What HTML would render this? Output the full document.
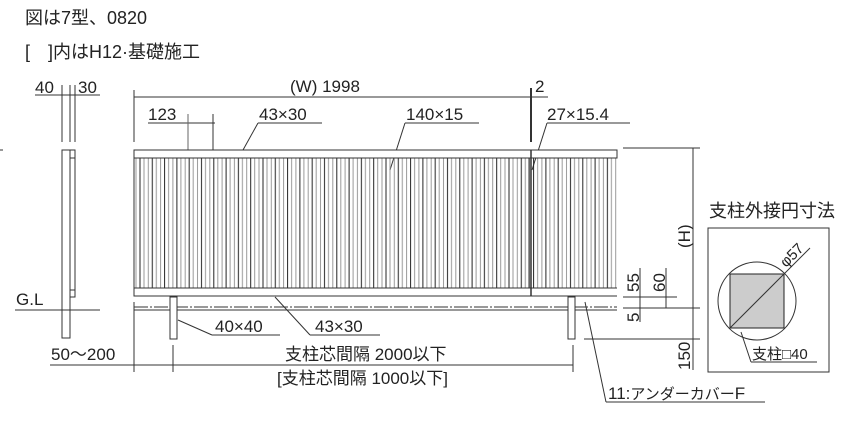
<!DOCTYPE html>
<html><head><meta charset="utf-8"><style>
body{margin:0;background:#fff}
svg{display:block}
text{font-family:"Liberation Sans","Noto Sans CJK JP",sans-serif;fill:#222}
</style></head><body>
<svg width="844" height="428" viewBox="0 0 844 428" xmlns="http://www.w3.org/2000/svg">
<defs>
<pattern id="sl" x="134" y="0" width="12.3" height="10" patternUnits="userSpaceOnUse">
<line x1="2" y1="0" x2="2" y2="10" stroke="#999" stroke-width="1"/>
<line x1="6" y1="0" x2="6" y2="10" stroke="#222" stroke-width="1"/>
<line x1="10" y1="0" x2="10" y2="10" stroke="#999" stroke-width="1"/>
</pattern>
</defs>
<g font-size="18">
<text x="25" y="24">図は7型、0820</text>
<text x="25" y="58">[　]内はH12·基礎施工</text>
</g>
<g stroke="#333" stroke-width="1" fill="none">
<line x1="35" y1="95" x2="100" y2="95"/>
<line x1="62" y1="85" x2="62" y2="142"/><line x1="70" y1="85" x2="70" y2="142"/><line x1="75" y1="85" x2="75" y2="142"/>
<rect x="62" y="150" width="8" height="188" fill="#fff"/>
<rect x="70" y="150" width="5" height="8"/>
<line x1="70" y1="158" x2="75" y2="158"/><line x1="75" y1="158" x2="75" y2="290"/>
<rect x="70" y="290" width="5" height="7"/>
<line x1="15" y1="310" x2="100" y2="310"/>
<line x1="0" y1="150" x2="3" y2="150"/>
<line x1="134" y1="97" x2="533" y2="97"/>
<line x1="134" y1="90" x2="134" y2="142"/>
<line x1="531" y1="88" x2="531" y2="142" stroke-width="2"/>
<line x1="531" y1="97" x2="548" y2="97"/>
<line x1="148" y1="123" x2="215" y2="123"/>
<line x1="188" y1="114" x2="188" y2="150" stroke="#666"/><line x1="213" y1="114" x2="213" y2="150"/>
<line x1="258" y1="123" x2="322" y2="123"/><line x1="258" y1="123" x2="243" y2="150"/>
<line x1="405" y1="123" x2="479" y2="123"/><line x1="405" y1="123" x2="390" y2="170"/>
<line x1="547" y1="123" x2="630" y2="123"/><line x1="547" y1="123" x2="532" y2="170"/>
<rect x="134" y="158" width="483" height="130" fill="url(#sl)" stroke="none"/>
<line x1="134" y1="158" x2="134" y2="288"/>
<rect x="134" y="150" width="483" height="8" fill="#fff"/>
<rect x="134" y="288" width="397" height="8" fill="#fff"/>
<line x1="531" y1="288" x2="617" y2="288"/>
<line x1="531" y1="296" x2="617" y2="296"/>
<line x1="531" y1="150" x2="531" y2="296" stroke-width="1.5"/>
<line x1="529" y1="158" x2="529" y2="288"/>
<line x1="134" y1="307" x2="617" y2="307" stroke-dasharray="14 2 2 2"/>
<line x1="134" y1="310" x2="617" y2="310"/>
<rect x="170" y="297" width="7" height="42" fill="#fff"/>
<rect x="568" y="297" width="7" height="42" fill="#fff"/>
<line x1="178" y1="320" x2="212" y2="335"/><line x1="212" y1="335" x2="280" y2="335"/>
<line x1="275" y1="297" x2="310" y2="335"/><line x1="310" y1="335" x2="380" y2="335"/>
<line x1="134" y1="302" x2="134" y2="372"/>
<line x1="50" y1="365" x2="573" y2="365"/>
<line x1="173" y1="345" x2="173" y2="372"/><line x1="573" y1="345" x2="573" y2="372"/>
<line x1="585" y1="302" x2="606" y2="402"/><line x1="606" y1="402" x2="765" y2="402"/>
<line x1="623" y1="148" x2="700" y2="148"/>
<line x1="693" y1="148" x2="693" y2="370"/>
<line x1="623" y1="297" x2="677" y2="297"/>
<line x1="623" y1="308" x2="700" y2="308"/>
<line x1="584" y1="339" x2="700" y2="339"/>
<line x1="640" y1="268" x2="640" y2="322"/>
<line x1="666" y1="268" x2="666" y2="308"/>
<rect x="708" y="228" width="121" height="144"/>
<circle cx="757" cy="301" r="39"/>
<rect x="730" y="274" width="54" height="54" fill="#ccc" stroke="#222"/>
<line x1="730" y1="328" x2="810" y2="248"/>
<line x1="741" y1="332" x2="751" y2="362"/><line x1="751" y1="362" x2="817" y2="362"/>
</g>
<g font-size="17">
<text x="35" y="93">40</text><text x="78" y="93">30</text>
<text x="290" y="92">(W) 1998</text>
<text x="535" y="92">2</text>
<text x="148" y="120">123</text>
<text x="259" y="120">43×30</text>
<text x="406" y="120">140×15</text>
<text x="547" y="120">27×15.4</text>
<text x="16" y="305">G.L</text>
<text x="51" y="360">50～200</text>
<text x="215" y="332">40×40</text>
<text x="315" y="332">43×30</text>
<text x="285" y="360" font-size="17">支柱芯間隔 2000以下</text>
<text x="277" y="384" font-size="17">[支柱芯間隔 1000以下]</text>
<text x="608" y="399" font-size="17">11:<tspan font-size="15">アンダーカバー</tspan>F</text>
<text x="709" y="217" font-size="18">支柱外接円寸法</text>
<text x="752" y="359" font-size="15">支柱□40</text>
<text transform="translate(639,292) rotate(-90)">55</text>
<text transform="translate(665,292) rotate(-90)">60</text>
<text transform="translate(639,322) rotate(-90)">5</text>
<text transform="translate(690,370) rotate(-90)">150</text>
<text transform="translate(690,248) rotate(-90)">(H)</text>
<text transform="translate(786,268) rotate(-45)" font-size="15">φ57</text>
</g>
</svg>
</body></html>
